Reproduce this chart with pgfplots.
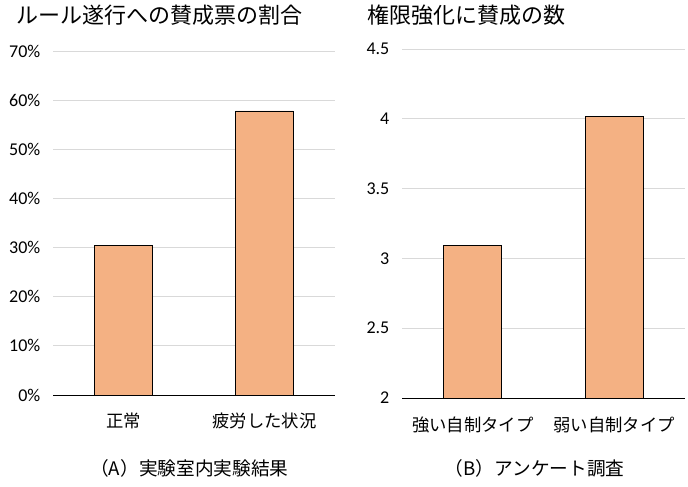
\documentclass[border=0pt]{standalone}
\usepackage{fontspec}
\setmainfont{Carlito}
\newfontfamily\jp{Noto Sans CJK JP}
\usepackage{pgfplots}
\pgfplotsset{compat=1.18}
\definecolor{barfill}{HTML}{F4B183}
\definecolor{gridc}{HTML}{D9D9D9}

\pgfplotsset{
  panel/.style={
    scale only axis,
    anchor=south west,
    xmin=-0.5, xmax=1.5,
    axis x line*=bottom,
    axis y line*=left,
    y axis line style={draw=none},
    x axis line style={black, line width=0.6pt},
    xtick={0,1},
    major x tick style={draw=none},
    extra x ticks={-0.5,0.5,1.5},
    extra x tick labels={},
    extra x tick style={major tick length=4.5pt, tick align=outside,
      major tick style={black, line width=0.6pt}, grid=none},
    ymajorgrids,
    major grid style={gridc, line width=0.7pt},
    major y tick style={draw=none},
    tick label style={font=\fontsize{13.5}{15}\selectfont},
    y tick label style={xshift=-6pt},
    x tick label style={font=\jp\fontsize{13}{15}\selectfont, yshift=-6pt},
    /pgf/number format/assume math mode=true,
    ybar, bar width=0.41,
    clip=false,
  },
}

\begin{document}
\begin{tikzpicture}
\useasboundingbox (0,0) rectangle (516pt,-364.5pt);

% (A)
\begin{axis}[panel,
  at={(39.75pt,-296.25pt)},
  width=211.5pt, height=258pt,
  ymin=0, ymax=70, ytick={0,10,...,70},
  yticklabel={\pgfmathprintnumber{\tick}\%},
  xticklabels={正常,疲労した状況},
]
\addplot[fill=barfill, draw=black, line width=0.6pt] coordinates {(0,30.5) (1,57.8)};
\end{axis}

% (B)
\begin{axis}[panel,
  at={(301.5pt,-298.5pt)},
  width=212.25pt, height=261.75pt,
  ymin=2, ymax=4.5, ytick={2,2.5,...,4.5},
  xticklabels={強い自制タイプ,弱い自制タイプ},
]
\addplot[fill=barfill, draw=black, line width=0.6pt] coordinates {(0,3.09) (1,4.02)};
\end{axis}

\node[anchor=west, font=\jp\fontsize{16.5}{18}\selectfont] at (9pt,-11.5pt) {ルール遂行への賛成票の割合};
\node[anchor=west, font=\jp\fontsize{16.5}{18}\selectfont] at (272pt,-11.5pt) {権限強化に賛成の数};
\node[font=\jp\fontsize{14}{16}\selectfont] at (142pt,-351pt) {（A）実験室内実験結果};
\node[font=\jp\fontsize{14}{16}\selectfont] at (401pt,-351pt) {（B）アンケート調査};
\end{tikzpicture}
\end{document}
